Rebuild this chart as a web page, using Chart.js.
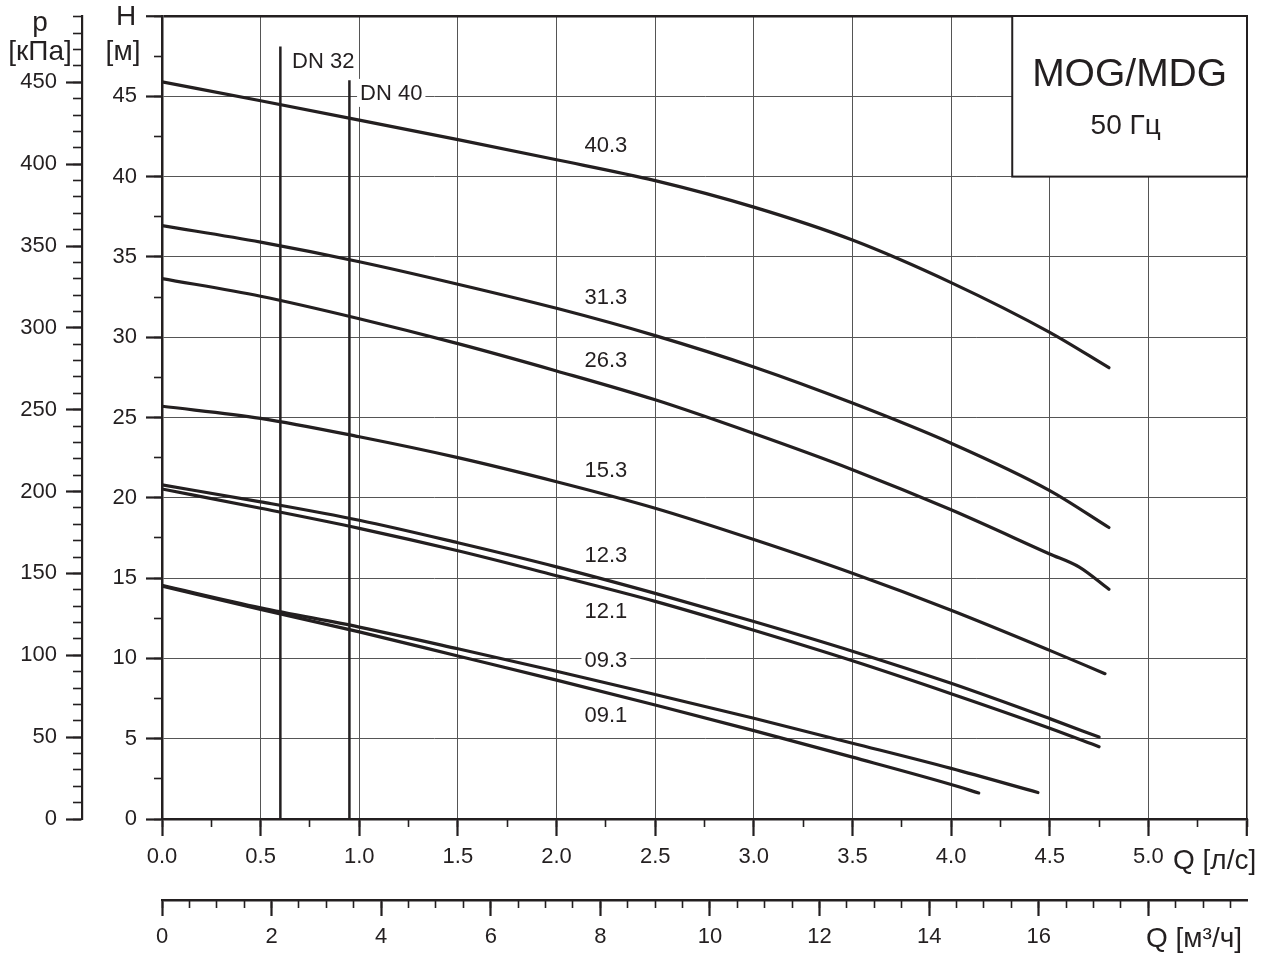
<!DOCTYPE html>
<html><head><meta charset="utf-8">
<script src="https://cdn.jsdelivr.net/npm/chart.js@4/dist/chart.umd.min.js"></script>
<style>html,body{margin:0;padding:0;background:#fff;}canvas{display:block;}</style>
</head><body>
<canvas id="c" width="1271" height="960"></canvas>
<script>
// ---------- data ----------
const Q_MAX = 5.5;          // л/с
const H_MAX = 50;           // м
const M3H_PER_LS = 3.6;
const KPA_PER_M = 9.81;

const curveNames = ['40.3','31.3','26.3','15.3','12.3','12.1','09.3','09.1'];
const q_40_3 = [0, 0.5, 1.0, 1.5, 2.0, 2.5, 3.0, 3.5, 4.0, 4.5, 4.8];
const h_40_3 = [45.9, 44.72, 43.52, 42.3, 41.05, 39.75, 38.1, 36.05, 33.4, 30.3, 28.1];
const q_31_3 = [0, 0.5, 1.0, 1.5, 2.0, 2.5, 3.0, 3.5, 4.0, 4.5, 4.8];
const h_31_3 = [36.95, 35.92, 34.7, 33.3, 31.8, 30.1, 28.15, 25.9, 23.4, 20.45, 18.15];
const q_26_3 = [0, 0.5, 1.0, 1.5, 2.0, 2.5, 3.0, 3.5, 4.0, 4.5, 4.65, 4.8];
const h_26_3 = [33.65, 32.55, 31.15, 29.6, 27.9, 26.1, 24.0, 21.75, 19.25, 16.5, 15.68, 14.3];
const q_15_3 = [0, 0.5, 1.0, 1.5, 2.0, 2.5, 3.0, 3.5, 4.0, 4.5, 4.78];
const h_15_3 = [25.7, 24.95, 23.8, 22.5, 21.0, 19.35, 17.4, 15.3, 13.0, 10.5, 9.05];
const q_12_3 = [0, 0.5, 1.0, 1.5, 2.0, 2.5, 3.0, 3.5, 4.0, 4.5, 4.75];
const h_12_3 = [20.8, 19.75, 18.6, 17.2, 15.7, 14.05, 12.3, 10.45, 8.45, 6.25, 5.1];
const q_12_1 = [0, 0.5, 1.0, 1.5, 2.0, 2.5, 3.0, 3.5, 4.0, 4.5, 4.75];
const h_12_1 = [20.55, 19.35, 18.1, 16.7, 15.15, 13.55, 11.75, 9.85, 7.8, 5.65, 4.5];
const q_09_3 = [0, 0.5, 1.0, 1.5, 2.0, 2.5, 3.0, 3.5, 4.0, 4.44];
const h_09_3 = [14.55, 13.15, 11.95, 10.6, 9.2, 7.75, 6.27, 4.72, 3.15, 1.65];
const q_09_1 = [0, 0.5, 1.0, 1.5, 2.0, 2.5, 3.0, 3.5, 4.0, 4.14];
const h_09_1 = [14.5, 13.05, 11.65, 10.15, 8.65, 7.1, 5.5, 3.85, 2.15, 1.62];

const curveQ = [q_40_3, q_31_3, q_26_3, q_15_3, q_12_3, q_12_1, q_09_3, q_09_1];
const curveH = [h_40_3, h_31_3, h_26_3, h_15_3, h_12_3, h_12_1, h_09_3, h_09_1];
const curveLabelQ = [2.25, 2.25, 2.25, 2.25, 2.25, 2.25, 2.25, 2.25];
const curveLabelH = [41.9, 32.45, 28.5, 21.7, 16.4, 12.9, 9.85, 6.4];

const dnNames = ['DN 32', 'DN 40'];
const dnQ = [0.6, 0.95];
const dnTopH = [48.1, 46.0];
const dnLabelQ = [0.659, 1.004];
const dnLabelH = [47.15, 45.15];

const boxQ = [4.31, 5.5];
const boxH = [40, 50];
const boxTitle = 'MOG/MDG';
const boxSub = '50 Гц';

const qTicksLs = [0, 0.5, 1.0, 1.5, 2.0, 2.5, 3.0, 3.5, 4.0, 4.5, 5.0];
const qTicksM3h = [0, 2, 4, 6, 8, 10, 12, 14, 16];
const hTicks = [0, 5, 10, 15, 20, 25, 30, 35, 40, 45];
const pTicks = [0, 50, 100, 150, 200, 250, 300, 350, 400, 450];

// ---------- style ----------
const INK = '#231f20';
const GRID = '#555555';
const FONT = '"Liberation Sans", Arial, sans-serif';

const datasets = [];
curveQ.forEach((qs, i) => {
  datasets.push({
    label: curveNames[i],
    data: qs.map((q, j) => ({x: q, y: curveH[i][j]})),
    borderColor: INK, borderWidth: 3.2, pointRadius: 0,
    cubicInterpolationMode: 'monotone', borderCapStyle: 'round', borderJoinStyle: 'round',
    fill: false
  });
});
dnQ.forEach((q, i) => {
  datasets.push({
    label: dnNames[i],
    data: [{x: q, y: 0}, {x: q, y: dnTopH[i]}],
    borderColor: INK, borderWidth: 2.5, pointRadius: 0, tension: 0, fill: false
  });
});

function near(a, b) { return Math.abs(a - b) < 1e-6; }
function inList(v, list) { return list.some(t => near(t, v)); }
function fixSize(prop, val) {
  return s => {
    s[prop] = val;
    s.paddingTop = 0; s.paddingBottom = 0; s.paddingLeft = 0; s.paddingRight = 0;
  };
}

const annot = {
  id: 'annot',
  afterDatasetsDraw(chart) {
    const ctx = chart.ctx;
    const xs = chart.scales.x, ys = chart.scales.y, x2 = chart.scales.x2, y2 = chart.scales.y2;
    ctx.save();
    ctx.textBaseline = 'middle';
    function label(text, px, py, align, size) {
      ctx.font = size + 'px ' + FONT;
      const w = ctx.measureText(text).width;
      const left = align === 'center' ? px - w / 2 : px;
      ctx.fillStyle = '#fff';
      ctx.fillRect(left - 3, py - 15, w + 6, 28);
      ctx.fillStyle = INK;
      ctx.textAlign = 'left';
      ctx.fillText(text, left, py);
    }
    curveNames.forEach((n, i) => {
      label(n, xs.getPixelForValue(curveLabelQ[i]), ys.getPixelForValue(curveLabelH[i]), 'center', 22);
    });
    dnNames.forEach((n, i) => {
      label(n, xs.getPixelForValue(dnLabelQ[i]), ys.getPixelForValue(dnLabelH[i]), 'left', 22);
    });
    // title box
    const bx0 = xs.getPixelForValue(boxQ[0]), bx1 = xs.getPixelForValue(boxQ[1]);
    const by0 = ys.getPixelForValue(boxH[1]), by1 = ys.getPixelForValue(boxH[0]);
    ctx.fillStyle = '#fff';
    ctx.fillRect(bx0, by0, bx1 - bx0, by1 - by0);
    ctx.strokeStyle = INK; ctx.lineWidth = 2;
    ctx.strokeRect(bx0, by0, bx1 - bx0, by1 - by0);
    ctx.fillStyle = INK; ctx.textAlign = 'center';
    ctx.font = '39px ' + FONT;
    ctx.fillText(boxTitle, (bx0 + bx1) / 2, by0 + 0.37 * (by1 - by0));
    ctx.font = '28px ' + FONT;
    ctx.fillText(boxSub, (bx0 + bx1) / 2 - 4, by0 + 0.685 * (by1 - by0));
    // axis titles
    ctx.font = '28px ' + FONT;
    ctx.textAlign = 'center';
    ctx.fillText('p', y2.left + 40, ys.top + 7);
    ctx.fillText('[кПа]', y2.left + 40, ys.top + 36);
    ctx.fillText('H', ys.right - 36, ys.top + 1);
    ctx.fillText('[м]', ys.right - 39, ys.top + 36);
    ctx.textAlign = 'left';
    ctx.fillText('Q [л/с]', xs.right - 74, xs.top + 42);
    ctx.fillText('Q [м³/ч]', x2.right - 101, x2.top + 39);
    ctx.restore();
  }
};

const tickFont = {family: FONT, size: 22};

new Chart(document.getElementById('c'), {
  type: 'line',
  data: {datasets},
  plugins: [annot],
  options: {
    responsive: false, maintainAspectRatio: false, animation: false,
    devicePixelRatio: 1,
    layout: {padding: {left: 0, top: 16, right: 24, bottom: 0}},
    plugins: {legend: {display: false}, tooltip: {enabled: false}},
    scales: {
      x: {
        type: 'linear', position: 'bottom', weight: 1, min: 0, max: Q_MAX,
        afterFit: fixSize('height', 81),
        border: {display: true, color: INK, width: 2.5},
        grid: {
          color: c => near(c.tick.value, Q_MAX) ? INK : GRID,
          lineWidth: c => near(c.tick.value, Q_MAX) ? 1.6 : 1,
          tickLength: 17, tickColor: INK, tickWidth: 2.2
        },
        ticks: {
          stepSize: 0.5, maxTicksLimit: 1000, autoSkip: false, maxRotation: 0, padding: 8,
          color: INK, font: tickFont,
          callback: v => inList(v, qTicksLs) ? Number(v).toFixed(1) : ''
        }
      },
      xMinor: {
        type: 'linear', position: 'bottom', weight: 0, min: 0, max: Q_MAX,
        afterFit: fixSize('height', 0),
        border: {display: false},
        grid: {drawOnChartArea: false, tickLength: 8, tickColor: INK, tickWidth: 1.6},
        ticks: {stepSize: 0.25, maxTicksLimit: 1000, display: false}
      },
      x2: {
        type: 'linear', position: 'bottom', weight: 3, min: 0, max: Q_MAX * M3H_PER_LS,
        afterFit: fixSize('height', 60),
        border: {display: true, color: INK, width: 2.5},
        grid: {drawOnChartArea: false, tickLength: 16, tickColor: INK, tickWidth: 2.2},
        ticks: {
          stepSize: 2, maxTicksLimit: 1000, includeBounds: false, autoSkip: false, maxRotation: 0, padding: 8,
          color: INK, font: tickFont,
          callback: v => inList(v, qTicksM3h) ? String(Math.round(v)) : ''
        }
      },
      x2Minor: {
        type: 'linear', position: 'bottom', weight: 2, min: 0, max: Q_MAX * M3H_PER_LS,
        afterFit: fixSize('height', 0),
        border: {display: false},
        grid: {drawOnChartArea: false, tickLength: 8, tickColor: INK, tickWidth: 1.6},
        ticks: {stepSize: 0.5, maxTicksLimit: 1000, includeBounds: false, display: false}
      },
      y: {
        type: 'linear', position: 'left', weight: 1, min: 0, max: H_MAX,
        afterFit: fixSize('width', 80),
        border: {display: true, color: INK, width: 2.5},
        grid: {
          color: c => near(c.tick.value, H_MAX) ? INK : GRID,
          lineWidth: c => near(c.tick.value, H_MAX) ? 2.5 : 1,
          tickLength: 16, tickColor: INK, tickWidth: 2.2
        },
        ticks: {
          stepSize: 5, maxTicksLimit: 1000, autoSkip: false, padding: 9,
          color: INK, font: tickFont,
          callback: v => inList(v, hTicks) ? String(Math.round(v)) : ''
        }
      },
      yMinor: {
        type: 'linear', position: 'left', weight: 0, min: 0, max: H_MAX,
        afterFit: fixSize('width', 0),
        border: {display: false},
        grid: {drawOnChartArea: false, tickLength: 8, tickColor: INK, tickWidth: 1.6},
        ticks: {stepSize: 2.5, maxTicksLimit: 1000, display: false}
      },
      y2: {
        type: 'linear', position: 'left', weight: 3, min: 0, max: H_MAX * KPA_PER_M,
        afterFit: fixSize('width', 82),
        border: {display: true, color: INK, width: 2.2},
        grid: {drawOnChartArea: false, tickLength: 16, tickColor: INK, tickWidth: 2.2},
        ticks: {
          stepSize: 50, maxTicksLimit: 1000, includeBounds: false, autoSkip: false, padding: 9,
          color: INK, font: tickFont,
          callback: v => inList(v, pTicks) ? String(Math.round(v)) : ''
        }
      },
      y2Minor: {
        type: 'linear', position: 'left', weight: 2, min: 0, max: H_MAX * KPA_PER_M,
        afterFit: fixSize('width', 0),
        border: {display: false},
        grid: {drawOnChartArea: false, tickLength: 9, tickColor: INK, tickWidth: 1.6},
        ticks: {stepSize: 10, maxTicksLimit: 1000, includeBounds: false, display: false}
      }
    }
  }
});
</script>
</body></html>
